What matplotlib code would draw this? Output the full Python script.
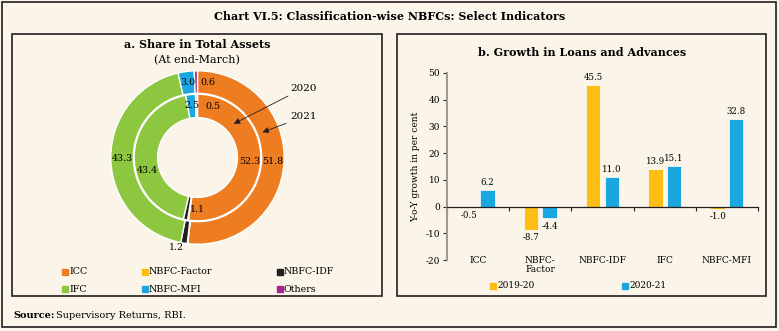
import matplotlib
matplotlib.use("Agg")
import matplotlib.pyplot as plt
from matplotlib.patches import Rectangle
import numpy as np

# ---- data ----
segments = ["ICC", "NBFC-Factor", "NBFC-IDF", "IFC", "NBFC-MFI", "Others"]
share_2021 = [51.8, 0.1, 1.2, 43.3, 3.0, 0.6]
share_2020 = [52.3, 0.2, 1.1, 43.4, 2.5, 0.5]
seg_colors = ["#EE7D22", "#FDBE14", "#231F20", "#8DC63F", "#1AA7E0", "#A0288F"]

categories = ["ICC", "NBFC-\nFactor", "NBFC-IDF", "IFC", "NBFC-MFI"]
growth_1920 = [-0.5, -8.7, 45.5, 13.9, -1.0]
growth_2021 = [6.2, -4.4, 11.0, 15.1, 32.8]
growth_labels = ["2019-20", "2020-21"]
bar_colors = ["#FDBE14", "#1AA7E0"]

bg = "#FBF4E8"
plt.rcParams["font.family"] = ["DejaVu Serif"]

W, H = 779, 331
fig = plt.figure(figsize=(W / 100, H / 100), dpi=100, facecolor=bg)


def fbox(x0, y0, x1, y1):
    # pixel box (top-left origin) -> figure fraction rect
    return [x0 / W, 1 - y1 / H, (x1 - x0) / W, (y1 - y0) / H]


def frame(x0, y0, x1, y1, lw=1.2):
    l, b, w, h = fbox(x0, y0, x1, y1)
    fig.patches.append(Rectangle((l, b), w, h, transform=fig.transFigure,
                                 fill=False, ec="#231F20", lw=lw))


frame(2, 2, 776, 327)
frame(12, 34, 382, 296)
frame(397, 34, 766, 296)

fig.text(390 / W, 1 - 17 / H, "Chart VI.5: Classification-wise NBFCs: Select Indicators",
         ha="center", va="center", fontsize=8, fontweight="bold")
fig.text(13 / W, 1 - 315 / H, "Source:", ha="left", va="center",
         fontsize=7, fontweight="bold")
fig.text(56 / W, 1 - 315 / H, "Supervisory Returns, RBI.", ha="left", va="center",
         fontsize=7)

# ---- a. donut ----
fig.text(197 / W, 1 - 45 / H, "a. Share in Total Assets", ha="center", va="center",
         fontsize=8, fontweight="bold")
fig.text(197 / W, 1 - 60 / H, "(At end-March)", ha="center", va="center", fontsize=8)

R = 86.7
ax1 = fig.add_axes(fbox(197.5 - 100, 157.5 - 100, 197.5 + 100, 157.5 + 100))

w_out, _ = ax1.pie(share_2021, colors=seg_colors, radius=1.0, startangle=90,
                   counterclock=False,
                   wedgeprops=dict(width=0.26, edgecolor="white", linewidth=1.0))
w_in, _ = ax1.pie(share_2020, colors=seg_colors, radius=0.73, startangle=90,
                  counterclock=False,
                  wedgeprops=dict(width=0.27, edgecolor="white", linewidth=1.0))
w_in[-1].set_facecolor("#E3B9D6")
ax1.set_xlim(-100 / R, 100 / R)
ax1.set_ylim(-100 / R, 100 / R)
ax1.set_aspect("equal")
ax1.axis("off")


def mid_xy(w, r, dang=0.0):
    a = np.deg2rad((w.theta1 + w.theta2) / 2 + dang)
    return r * np.cos(a), r * np.sin(a)


for i, (wo, wi) in enumerate(zip(w_out, w_in)):
    if segments[i] == "NBFC-Factor":
        continue
    ro, ri, do, di = 0.87, 0.6, 0.0, 0.0
    if segments[i] == "Others":
        do, di, ri = -9, -18, 0.62
    if segments[i] == "NBFC-IDF":
        ro, do, di = 1.06, -4, 11
    if segments[i] == "IFC":
        di = 15
    x, y = mid_xy(wo, ro, do)
    ax1.text(x, y, f"{share_2021[i]:.1f}", ha="center", va="center", fontsize=6.8)
    x, y = mid_xy(wi, ri, di)
    ax1.text(x, y, f"{share_2020[i]:.1f}", ha="center", va="center", fontsize=6.8)

ax1.annotate("2020", xy=(0.39, 0.375), xytext=(1.07, 0.80), fontsize=7.5,
             ha="left", va="center", annotation_clip=False,
             arrowprops=dict(arrowstyle="-|>", color="#231F20", lw=0.6,
                             mutation_scale=9, shrinkA=1))
ax1.annotate("2021", xy=(0.72, 0.28), xytext=(1.07, 0.47), fontsize=7.5,
             ha="left", va="center", annotation_clip=False,
             arrowprops=dict(arrowstyle="-|>", color="#231F20", lw=0.6,
                             mutation_scale=9, shrinkA=1))

leg_x = [62, 142, 277]
leg_y = [272, 289]
for i, (s, c) in enumerate(zip(segments, seg_colors)):
    col, row = i % 3, i // 3
    x, y = leg_x[col] / W, 1 - leg_y[row] / H
    fig.patches.append(Rectangle((x, y - 2.5 / H), 5.5 / W, 5.5 / H,
                                 transform=fig.transFigure, color=c))
    fig.text(x + 7 / W, y, s, ha="left", va="center", fontsize=6.8)

# ---- b. bars ----
fig.text(582 / W, 1 - 53 / H, "b. Growth in Loans and Advances", ha="center",
         va="center", fontsize=8, fontweight="bold")

ax2 = fig.add_axes(fbox(447, 73, 758, 260))
ax2.set_facecolor("none")
x = np.arange(len(categories))
bw, off = 0.23, 0.15
b1 = ax2.bar(x - off, growth_1920, bw, color=bar_colors[0], edgecolor="white",
             linewidth=0.5, label=growth_labels[0])
b2 = ax2.bar(x + off, growth_2021, bw, color=bar_colors[1], edgecolor="white",
             linewidth=0.5, label=growth_labels[1])
for bars, vals in ((b1, growth_1920), (b2, growth_2021)):
    for b, v in zip(bars, vals):
        y = v + 1.2 if v >= 0 else v - 1.2
        ax2.text(b.get_x() + b.get_width() / 2, y, f"{v:.1f}",
                 ha="center", va="bottom" if v >= 0 else "top", fontsize=6.2)

ax2.set_xlim(-0.5, len(categories) - 0.5)
ax2.set_ylim(-20, 50)
ax2.set_yticks(range(-20, 51, 10))
ax2.set_yticklabels([str(t) for t in range(-20, 51, 10)])
ax2.set_xticks(np.arange(len(categories) + 1) - 0.5)
ax2.set_xticklabels([])
for sp in ("top", "right"):
    ax2.spines[sp].set_visible(False)
ax2.spines["bottom"].set_position(("data", 0))
ax2.spines["bottom"].set_color("#231F20")
ax2.spines["bottom"].set_linewidth(0.9)
ax2.spines["left"].set_color("#A09A90")
ax2.spines["left"].set_linewidth(1.5)
ax2.tick_params(axis="x", direction="out", length=3, color="#231F20")
ax2.tick_params(axis="y", direction="out", length=3, labelsize=6.5, color="#231F20", pad=2)
for i, c in enumerate(categories):
    ax2.text(i, -18.4, c, ha="center", va="top", fontsize=6.5, linespacing=1.1)
ax2.set_ylabel("Y-o-Y growth in per cent", fontsize=6.5, labelpad=4)

for i, (s, c) in enumerate(zip(growth_labels, bar_colors)):
    xx, yy = [498, 630][i] / W, 1 - 286 / H
    fig.patches.append(Rectangle((xx - 8 / W, yy - 2.5 / H), 5.5 / W, 5.5 / H,
                                 transform=fig.transFigure, color=c))
    fig.text(xx - 1 / W, yy, s, ha="left", va="center", fontsize=6.5)

fig.savefig("out.png", dpi=100, facecolor=bg)
